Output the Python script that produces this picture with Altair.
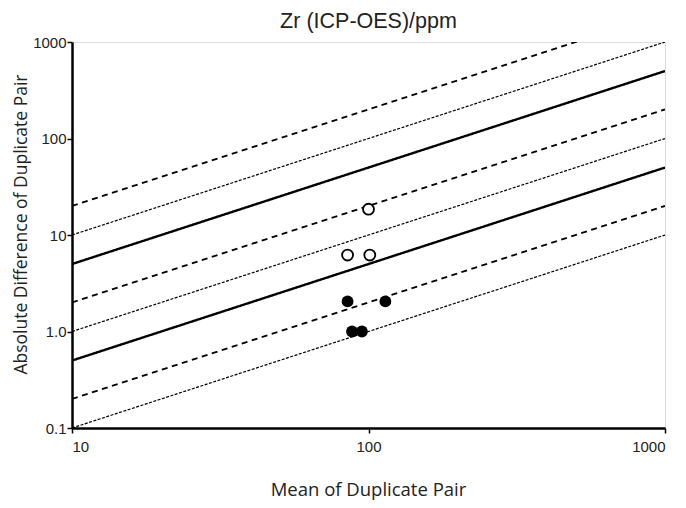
import altair as alt
import pandas as pd

# Reference lines: y = factor * x
line_factors = [2.0, 1.0, 0.5, 0.2, 0.1, 0.05, 0.02, 0.01]
line_styles = ["long", "short", "solid", "long", "short", "solid", "long", "short"]
x_ends = [10, 1000]

# Duplicate pairs
open_x = [85, 101, 100]
open_y = [6.2, 6.2, 18.5]
filled_x = [85, 114, 88, 95]
filled_y = [2.05, 2.05, 1.0, 1.0]

x_ticks = [10, 100, 1000]
y_ticks = [0.1, 1, 10, 100, 1000]

rows = []
for f, s in zip(line_factors, line_styles):
    for xv in x_ends:
        rows.append({"x": xv, "y": f * xv, "factor": str(f), "style": s})
lines_df = pd.DataFrame(rows)

pts_df = pd.DataFrame(
    [{"x": a, "y": b, "kind": "open"} for a, b in zip(open_x, open_y)]
    + [{"x": a, "y": b, "kind": "filled"} for a, b in zip(filled_x, filled_y)]
)

xscale = alt.Scale(type="log", domain=[10, 1000], nice=False)
yscale = alt.Scale(type="log", domain=[0.1, 1000], nice=False)

xaxis = alt.Axis(
    values=x_ticks, title="Mean of Duplicate Pair", grid=False, format="d",
    labelFont="Liberation Sans", labelFontSize=15, labelColor="#222",
    titleFont="Open Sans", titleFontSize=18.5, titleFontWeight="normal", titleColor="#222",
    titleX=296, titleY=67, titleBaseline="alphabetic",
    tickColor="black", tickSize=5, tickWidth=1.5, domainColor="black", domainWidth=2.5,
    labelPadding=6,
)
yaxis = alt.Axis(
    values=y_ticks, title="Absolute Difference of Duplicate Pair", grid=False,
    labelExpr="datum.value < 0.5 ? '0.1' : (datum.value == 1 ? '1.0' : format(datum.value, 'd'))",
    labelFont="Liberation Sans", labelFontSize=15, labelColor="#222",
    titleFont="Open Sans", titleFontSize=17.5, titleFontWeight="normal", titleColor="#222",
    titleX=-46, titleY=182, titleAngle=-90, titleAlign="center", titleBaseline="alphabetic",
    tickColor="black", tickSize=5, tickWidth=1.5, domainColor="black", domainWidth=2.5,
    labelPadding=1,
)

lines = alt.Chart(lines_df).mark_line(clip=True, color="black").encode(
    x=alt.X("x:Q", scale=xscale, axis=xaxis),
    y=alt.Y("y:Q", scale=yscale, axis=yaxis),
    detail="factor:N",
    strokeDash=alt.StrokeDash("style:N", scale=alt.Scale(domain=["solid", "long", "short"],
                                                         range=[[1, 0], [6, 4.5], [3, 1.5]]), legend=None),
    strokeWidth=alt.StrokeWidth("style:N", scale=alt.Scale(domain=["solid", "long", "short"],
                                                           range=[2.4, 1.2, 1.1]), legend=None),
)

open_pts = alt.Chart(pts_df).transform_filter("datum.kind == 'open'").mark_point(
    shape="circle", filled=True, fill="white", stroke="black", strokeWidth=1.8, size=120, opacity=1
).encode(x=alt.X("x:Q", scale=xscale), y=alt.Y("y:Q", scale=yscale))

filled_pts = alt.Chart(pts_df).transform_filter("datum.kind == 'filled'").mark_point(
    shape="circle", filled=True, color="black", size=140, opacity=1
).encode(x=alt.X("x:Q", scale=xscale), y=alt.Y("y:Q", scale=yscale))

chart = alt.layer(lines, open_pts, filled_pts).properties(
    width=593, height=386,
    title=alt.TitleParams("Zr (ICP-OES)/ppm", font="Liberation Sans", fontSize=21.5,
                          fontWeight="normal", color="#222", offset=3),
    autosize=alt.AutoSizeParams(type="none"),
    padding={"left": 64, "top": 34, "right": 13, "bottom": 72},
).configure_view(stroke="#000000", strokeWidth=2.5, strokeOpacity=1).configure(background="white")

chart.save("out.html", embed_options={"renderer": "svg", "actions": False})
